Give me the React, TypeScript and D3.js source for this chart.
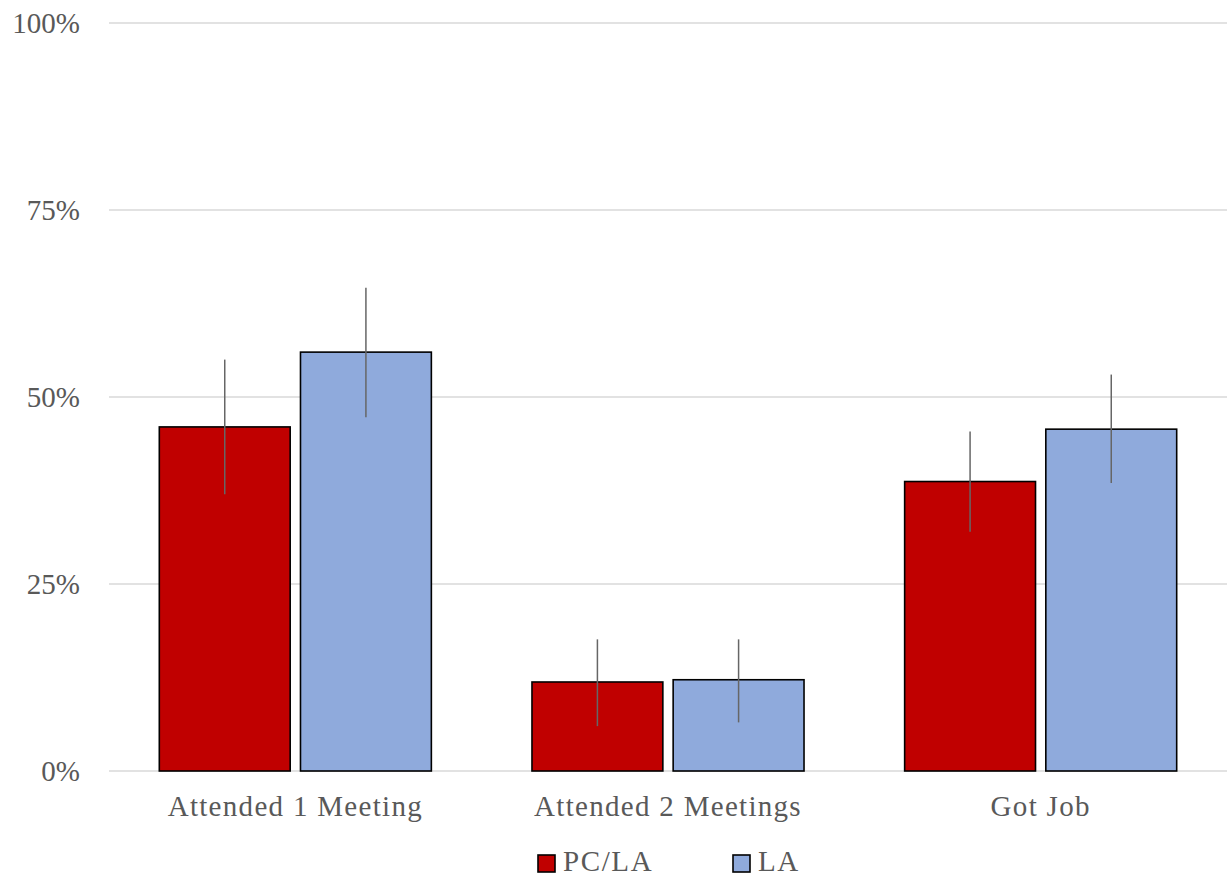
import React from "react";
import * as d3 from "d3";

const categories = ["Attended 1 Meeting", "Attended 2 Meetings", "Got Job"];
const seriesNames = ["PC/LA", "LA"];
const seriesColors = ["#c00000", "#8faadc"];
const pcLaValues = [0.46, 0.119, 0.387];
const laValues = [0.56, 0.122, 0.457];
const pcLaLow = [0.37, 0.06, 0.32];
const pcLaHigh = [0.55, 0.176, 0.454];
const laLow = [0.473, 0.065, 0.385];
const laHigh = [0.646, 0.176, 0.53];
const yTicks = [0, 0.25, 0.5, 0.75, 1];

const W = 1227;
const H = 879;
const left = 109;
const right = 1227;
const top = 23;
const bottom = 771;
const FONT = "'Liberation Serif', 'Times New Roman', serif";
const TEXT = "#595959";

export default function App() {
  const x0 = d3.scaleBand<string>().domain(categories).range([left, right]).paddingInner(0.27).paddingOuter(0.135);
  const x1 = d3.scaleBand<string>().domain(seriesNames).range([0, x0.bandwidth()]).paddingInner(0.073);
  const y = d3.scaleLinear().domain([0, 1]).range([bottom, top]);
  const series = [
    { name: seriesNames[0], color: seriesColors[0], values: pcLaValues, lo: pcLaLow, hi: pcLaHigh },
    { name: seriesNames[1], color: seriesColors[1], values: laValues, lo: laLow, hi: laHigh },
  ];
  return (
    <svg width={W} height={H} style={{ position: "absolute", left: 0, top: 0 }}>
      <rect width={W} height={H} fill="#fff" />
      {yTicks.map((t) => (
        <g key={t}>
          <line x1={left} x2={right} y1={y(t)} y2={y(t)} stroke="#d9d9d9" strokeWidth={1.3} />
          <text x={80} y={y(t)} dy="0.35em" textAnchor="end" fontFamily={FONT} fontSize={29} fill={TEXT}>
            {d3.format(".0%")(t)}
          </text>
        </g>
      ))}
      {series.map((s) =>
        categories.map((c, i) => {
          const bx = (x0(c) as number) + (x1(s.name) as number);
          const bw = x1.bandwidth();
          return (
            <g key={s.name + c}>
              <rect x={bx} y={y(s.values[i])} width={bw} height={y(0) - y(s.values[i])} fill={s.color} stroke="#000" strokeWidth={1.6} />
            </g>
          );
        })
      )}
      {series.map((s) =>
        categories.map((c, i) => {
          const cx = (x0(c) as number) + (x1(s.name) as number) + x1.bandwidth() / 2;
          return <line key={"e" + s.name + c} x1={cx} x2={cx} y1={y(s.lo[i])} y2={y(s.hi[i])} stroke="#666" strokeWidth={1.5} />;
        })
      )}
      {categories.map((c) => (
        <text key={c} x={(x0(c) as number) + x0.bandwidth() / 2} y={816} textAnchor="middle" fontFamily={FONT} fontSize={29} letterSpacing={1.3} fill={TEXT}>
          {c}
        </text>
      ))}
      {series.map((s, i) => {
        const lx = [538, 733][i];
        return (
          <g key={"l" + s.name}>
            <rect x={lx} y={855} width={17} height={17} fill={s.color} stroke="#000" strokeWidth={1.6} />
            <text x={lx + 25} y={871} fontFamily={FONT} fontSize={29} letterSpacing={1.6} fill={TEXT}>
              {s.name}
            </text>
          </g>
        );
      })}
    </svg>
  );
}
